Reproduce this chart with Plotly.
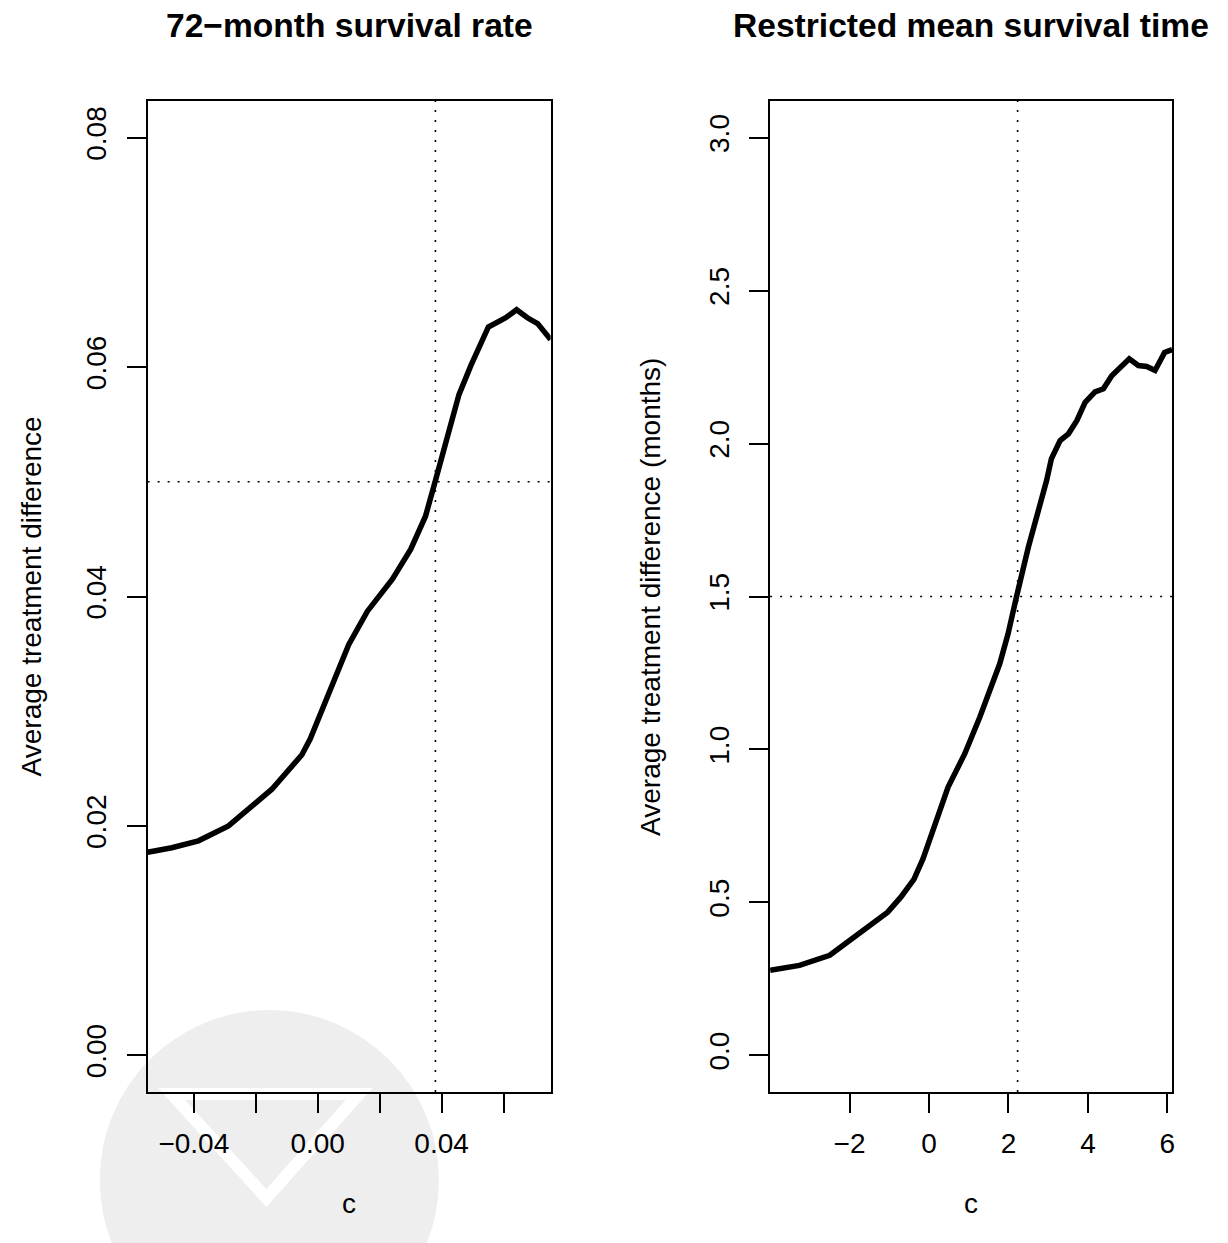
import plotly.graph_objects as go

W, H = 1228, 1243

# ---- data ----
surv_c = [-0.0549, -0.0471, -0.0385, -0.0288, -0.0148, -0.0051, -0.0024, 0.0014, 0.0068, 0.0100,
          0.0160, 0.0241, 0.0300, 0.0348, 0.0381, 0.0420, 0.0456, 0.0494, 0.0551, 0.0607,
          0.0642, 0.0677, 0.0710, 0.0752]
surv_diff = [0.0177, 0.0181, 0.0187, 0.0200, 0.0232, 0.0262, 0.0276, 0.0301, 0.0339, 0.0358,
             0.0387, 0.0415, 0.0441, 0.0470, 0.0502, 0.0540, 0.0576, 0.0601, 0.0635, 0.0643,
             0.0650, 0.0643, 0.0638, 0.0624]

rmst_c = [-4.00, -3.26, -2.50, -1.75, -1.04, -0.71, -0.38, -0.15, 0.15, 0.48, 0.90, 1.28, 1.78,
          1.99, 2.20, 2.50, 2.96, 3.08, 3.30, 3.51, 3.72, 3.93, 4.18, 4.39, 4.60, 4.81,
          5.04, 5.27, 5.48, 5.69, 5.93, 6.12]
rmst_diff = [0.278, 0.294, 0.327, 0.398, 0.468, 0.517, 0.575, 0.643, 0.755, 0.877, 0.986, 1.106,
             1.280, 1.378, 1.498, 1.661, 1.879, 1.950, 2.010, 2.032, 2.075, 2.135, 2.169,
             2.179, 2.222, 2.249, 2.277, 2.255, 2.252, 2.239, 2.298, 2.307]

surv_ref_c, surv_ref_y = 0.038, 0.05
rmst_ref_c, rmst_ref_y = 2.23, 1.5

surv_xticks = [-0.04, -0.02, 0.0, 0.02, 0.04, 0.06]
surv_xlabels = ["\u22120.04", "", "0.00", "", "0.04", ""]
surv_yticks = [0.0, 0.02, 0.04, 0.06, 0.08]
surv_ylabels = ["0.00", "0.02", "0.04", "0.06", "0.08"]
rmst_xticks = [-2, 0, 2, 4, 6]
rmst_xlabels = ["\u22122", "0", "2", "4", "6"]
rmst_yticks = [0.0, 0.5, 1.0, 1.5, 2.0, 2.5, 3.0]
rmst_ylabels = ["0.0", "0.5", "1.0", "1.5", "2.0", "2.5", "3.0"]

titles = ["72\u2212month survival rate", "Restricted mean survival time"]
ytitles = ["Average treatment difference", "Average treatment difference (months)"]
xtitle = "c"

FONT = "Liberation Sans, Arial, Helvetica, sans-serif"

def px(x):
    return x / W

def py(y):
    return 1 - y / H

fig = go.Figure()
fig.add_trace(go.Scatter(x=surv_c, y=surv_diff, mode="lines",
                         line=dict(color="black", width=5.5), xaxis="x", yaxis="y",
                         showlegend=False))
fig.add_trace(go.Scatter(x=rmst_c, y=rmst_diff, mode="lines",
                         line=dict(color="black", width=5.5), xaxis="x2", yaxis="y2",
                         showlegend=False))

L1, R1 = 148, 552
L2, R2 = 772, 1175
TOP, BOT = 101, 1092

axis_common = dict(showline=True, mirror=True, linecolor="black", linewidth=2,
                   ticks="outside", ticklen=19, tickwidth=2, tickcolor="black",
                   showgrid=False, zeroline=False,
                   tickfont=dict(family=FONT, size=28, color="black"))

fig.update_layout(
    width=W, height=H, margin=dict(l=0, r=0, t=0, b=0),
    paper_bgcolor="white", plot_bgcolor="rgba(0,0,0,0)",
    xaxis=dict(domain=[px(L1), px(R1)], range=[-0.0549, 0.0752],
               tickvals=surv_xticks, ticktext=surv_xlabels, anchor="y",
               ticklabelstandoff=6, **axis_common),
    yaxis=dict(domain=[py(BOT), py(TOP)], range=[-0.0032, 0.0832],
               tickvals=surv_yticks, ticktext=surv_ylabels, anchor="x",
               tickangle=-90, ticklabelstandoff=9, **axis_common),
    xaxis2=dict(domain=[px(L2), px(R2)], range=[-4.0, 6.12],
                tickvals=rmst_xticks, ticktext=rmst_xlabels, anchor="y2",
                ticklabelstandoff=6, **axis_common),
    yaxis2=dict(domain=[py(BOT), py(TOP)], range=[-0.12, 3.12],
                tickvals=rmst_yticks, ticktext=rmst_ylabels, anchor="x2",
                tickangle=-90, ticklabelstandoff=9, **axis_common),
)

dot = dict(color="black", width=1.6, dash="2px,8px")
shapes = [
    # faint watermark
    dict(type="circle", xref="paper", yref="paper", layer="below",
         x0=px(100), x1=px(440), y0=py(1350), y1=py(1010),
         fillcolor="#eeeeee", line=dict(width=0)),
    dict(type="path", xref="paper", yref="paper", layer="below",
         path=f"M {px(172)},{py(1094)} L {px(360)},{py(1094)} L {px(267)},{py(1198)} Z",
         fillcolor="rgba(0,0,0,0)", line=dict(color="white", width=12)),
    # reference lines
    dict(type="line", xref="x", yref="y domain", x0=surv_ref_c, x1=surv_ref_c, y0=0, y1=1, line=dot),
    dict(type="line", xref="x domain", yref="y", x0=0, x1=1, y0=surv_ref_y, y1=surv_ref_y, line=dot),
    dict(type="line", xref="x2", yref="y2 domain", x0=rmst_ref_c, x1=rmst_ref_c, y0=0, y1=1, line=dot),
    dict(type="line", xref="x2 domain", yref="y2", x0=0, x1=1, y0=rmst_ref_y, y1=rmst_ref_y, line=dot),
]
fig.update_layout(shapes=shapes)

ann = []
for cx, t in zip([(L1 + R1) / 2, (L2 + R2) / 2], titles):
    ann.append(dict(x=px(cx), y=py(25), xref="paper", yref="paper", text=f"<b>{t}</b>",
                    showarrow=False, xanchor="center", yanchor="middle",
                    font=dict(family=FONT, size=33.6, color="black")))
for cx in [(L1 + R1) / 2, (L2 + R2) / 2]:
    ann.append(dict(x=px(cx), y=py(1203), xref="paper", yref="paper", text=xtitle,
                    showarrow=False, xanchor="center", yanchor="middle",
                    font=dict(family=FONT, size=28, color="black")))
for cxp, t in zip([32, 652], ytitles):
    ann.append(dict(x=px(cxp), y=py((TOP + BOT) / 2), xref="paper", yref="paper", text=t,
                    showarrow=False, xanchor="center", yanchor="middle", textangle=-90,
                    font=dict(family=FONT, size=28, color="black")))
fig.update_layout(annotations=ann)

fig.write_html("out.html")
